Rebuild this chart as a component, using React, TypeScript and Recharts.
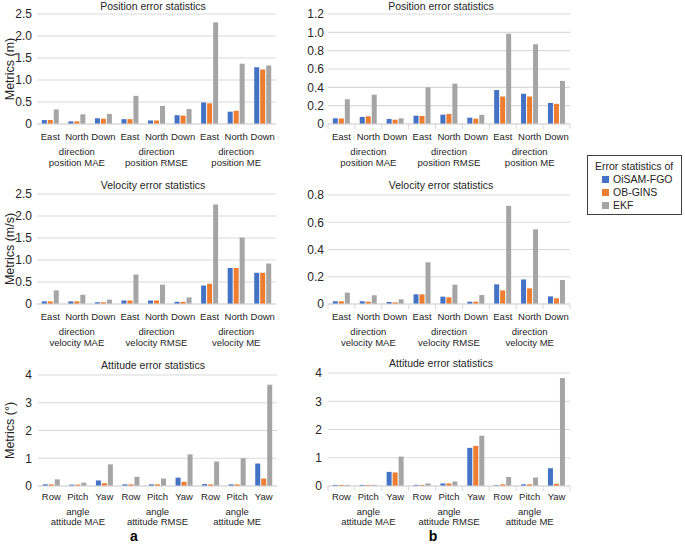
import React from 'react';
import { Bar, BarChart, CartesianGrid, XAxis, YAxis } from 'recharts';

const directions = ['East', 'North', 'Down'];
const angles = ['Row', 'Pitch', 'Yaw'];
const statistics = ['MAE', 'RMSE', 'ME'];

const seriesNames = ['OiSAM-FGO', 'OB-GINS', 'EKF'];
const seriesKeys = ['fgo', 'gins', 'ekf'];
const colors = ['#4472c4', '#ed7d31', '#a5a5a5'];

// panel a
const posAFgo = [0.09, 0.06, 0.13, 0.11, 0.08, 0.2, 0.49, 0.28, 1.29];
const posAGins = [0.09, 0.06, 0.12, 0.11, 0.08, 0.19, 0.47, 0.3, 1.24];
const posAEkf = [0.33, 0.22, 0.23, 0.64, 0.41, 0.34, 2.31, 1.37, 1.33];

const velAFgo = [0.06, 0.06, 0.04, 0.08, 0.08, 0.05, 0.42, 0.82, 0.71];
const velAGins = [0.06, 0.06, 0.04, 0.08, 0.08, 0.05, 0.46, 0.82, 0.71];
const velAEkf = [0.31, 0.21, 0.1, 0.67, 0.44, 0.15, 2.26, 1.51, 0.92];

const attAFgo = [0.06, 0.05, 0.2, 0.06, 0.06, 0.3, 0.07, 0.06, 0.81];
const attAGins = [0.06, 0.05, 0.1, 0.06, 0.06, 0.15, 0.06, 0.06, 0.27];
const attAEkf = [0.24, 0.12, 0.78, 0.33, 0.27, 1.14, 0.88, 1.0, 3.65];

// panel b
const posBFgo = [0.062, 0.077, 0.055, 0.091, 0.102, 0.069, 0.37, 0.33, 0.23];
const posBGins = [0.06, 0.084, 0.047, 0.088, 0.11, 0.058, 0.3, 0.3, 0.22];
const posBEkf = [0.27, 0.32, 0.062, 0.4, 0.44, 0.1, 0.985, 0.87, 0.47];

const velBFgo = [0.02, 0.02, 0.015, 0.071, 0.054, 0.017, 0.144, 0.18, 0.056];
const velBGins = [0.02, 0.017, 0.012, 0.071, 0.049, 0.017, 0.1, 0.115, 0.042];
const velBEkf = [0.083, 0.064, 0.034, 0.306, 0.142, 0.066, 0.72, 0.548, 0.176];

const attBFgo = [0.04, 0.04, 0.5, 0.04, 0.09, 1.35, 0.03, 0.06, 0.63];
const attBGins = [0.04, 0.04, 0.48, 0.04, 0.09, 1.42, 0.06, 0.06, 0.08];
const attBEkf = [0.04, 0.04, 1.04, 0.09, 0.16, 1.78, 0.32, 0.3, 3.82];

const posATicks = [0, 0.5, 1, 1.5, 2, 2.5];
const posBTicks = [0, 0.2, 0.4, 0.6, 0.8, 1, 1.2];
const velATicks = [0, 0.5, 1, 1.5, 2, 2.5];
const velBTicks = [0, 0.2, 0.4, 0.6, 0.8];
const attTicks = [0, 1, 2, 3, 4];

const FONT = '"Liberation Sans", Arial, sans-serif';
const TEXT = '#262626';
const GRID = '#d9d9d9';

const buildData = (labels: string[], fgo: number[], gins: number[], ekf: number[]) =>
  fgo.map((v, i) => ({
    name: labels[i % 3],
    fgo: v,
    gins: gins[i],
    ekf: ekf[i]
  }));

interface IPanel {
  title: string;
  data: any[];
  ticks: number[];
  decimals: number;
  yLabel?: string;
  level: string;
  prefix: string;
  plotLeft: number;
  plotRight: number;
  plotTop: number;
  plotBottom: number;
  chartLeft: number;
  titleX: number;
  titleY: number;
  catDy: number;
  levelDy: number;
  statDy: number;
  tickGap: number;
  boundaries: boolean;
}

const X_AXIS_H = 46;

const Panel = (p: IPanel) => {
  const top = p.plotTop - 6;
  const width = p.plotRight - p.chartLeft + 4;
  const height = p.plotBottom + X_AXIS_H - top;
  const base = p.plotBottom - top;
  const bw = (p.plotRight - p.plotLeft) / 9;

  const renderTick = (props: any) => {
    const { x, payload } = props;
    const i = payload?.index ?? props.index;
    return (
      <g>
        {p.boundaries && <line x1={x - bw / 2} x2={x - bw / 2} y1={base} y2={base + 5} stroke={GRID} />}
        {p.boundaries && i === 8 && <line x1={x + bw / 2} x2={x + bw / 2} y1={base} y2={base + 5} stroke={GRID} />}
        <text x={x} y={base + p.catDy} textAnchor="middle" dominantBaseline="central" fontSize={9.5} fill={TEXT} fontFamily={FONT}>
          {payload.value}
        </text>
        {i % 3 === 1 && (
          <>
            <text x={x} y={base + p.levelDy} textAnchor="middle" dominantBaseline="central" fontSize={9.5} fill={TEXT} fontFamily={FONT}>
              {p.level}
            </text>
            <text x={x} y={base + p.statDy} textAnchor="middle" dominantBaseline="central" fontSize={9.5} fill={TEXT} fontFamily={FONT}>
              {`${p.prefix} ${statistics[Math.floor(i / 3)]}`}
            </text>
          </>
        )}
      </g>
    );
  };

  return (
    <>
      <div
        style={{
          position: 'absolute',
          left: p.titleX - 150,
          top: p.titleY - 7,
          width: 300,
          lineHeight: '14px',
          textAlign: 'center',
          fontSize: 10.5,
          color: TEXT,
          fontFamily: FONT
        }}
      >
        {p.title}
      </div>
      <div style={{ position: 'absolute', left: p.chartLeft, top }}>
        <BarChart
          width={width}
          height={height}
          data={p.data}
          margin={{ top: 6, right: 4, left: 0, bottom: 0 }}
          barCategoryGap="18%"
          barGap={1}
        >
          <CartesianGrid vertical={false} stroke={GRID} strokeWidth={1.2} />
          <XAxis
            dataKey="name"
            interval={0}
            height={X_AXIS_H}
            axisLine={{ stroke: GRID }}
            tickLine={false}
            tick={renderTick}
          />
          <YAxis
            width={p.plotLeft - p.chartLeft}
            domain={[0, p.ticks[p.ticks.length - 1]]}
            ticks={p.ticks}
            interval={0}
            axisLine={false}
            tickLine={false}
            tickSize={p.tickGap}
            tickMargin={0}
            tick={{ fontSize: 12, fill: TEXT, fontFamily: FONT }}
            tickFormatter={(v: number) => (v === 0 ? '0' : v.toFixed(p.decimals))}
            label={
              p.yLabel
                ? {
                    value: p.yLabel,
                    angle: -90,
                    position: 'insideLeft',
                    offset: 10,
                    style: { textAnchor: 'middle', fontSize: 12.5, fill: TEXT, fontFamily: FONT }
                  }
                : undefined
            }
          />
          {seriesKeys.map((key, index) => (
            <Bar key={key} dataKey={key} name={seriesNames[index]} fill={colors[index]} isAnimationActive={false} />
          ))}
        </BarChart>
      </div>
    </>
  );
};

const Legend = () => (
  <div
    style={{
      position: 'absolute',
      left: 587,
      top: 155,
      width: 93,
      height: 58,
      border: '1px solid #404040',
      fontFamily: FONT,
      fontSize: 10.5,
      color: TEXT
    }}
  >
    <div style={{ position: 'absolute', left: 7, top: 4, lineHeight: '13px', whiteSpace: 'nowrap' }}>Error statistics of</div>
    {seriesNames.map((name, i) => (
      <div key={name} style={{ position: 'absolute', left: 14, top: 17 + i * 13, lineHeight: '13px', whiteSpace: 'nowrap' }}>
        <span style={{ display: 'inline-block', width: 7, height: 7, background: colors[i], marginRight: 4 }} />
        {name}
      </div>
    ))}
  </div>
);

const panelLabel = (text: string, cx: number) => (
  <div
    style={{
      position: 'absolute',
      left: cx - 7,
      top: 531,
      width: 14,
      textAlign: 'center',
      fontWeight: 'bold',
      fontSize: 14,
      lineHeight: '11px',
      color: '#000'
    }}
  >
    {text}
  </div>
);

export default function App() {
  const posVel = { decimals: 1, catDy: 12.5, levelDy: 27, statDy: 38 };
  const att = { decimals: 0, catDy: 10, levelDy: 25.5, statDy: 35.5 };
  return (
    <div style={{ position: 'absolute', left: 0, top: 0, width: 685, height: 544, background: '#fff', fontFamily: FONT }}>
      <Panel
        {...posVel}
        title="Position error statistics"
        data={buildData(directions, posAFgo, posAGins, posAEkf)}
        ticks={posATicks}
        yLabel="Metrics (m)"
        level="direction"
        prefix="position"
        plotLeft={37}
        plotRight={276}
        plotTop={14}
        plotBottom={124}
        chartLeft={0}
        titleX={153}
        titleY={6}
        tickGap={5}
        boundaries={false}
      />
      <Panel
        {...posVel}
        title="Position error statistics"
        data={buildData(directions, posBFgo, posBGins, posBEkf)}
        ticks={posBTicks}
        level="direction"
        prefix="position"
        plotLeft={328}
        plotRight={570}
        plotTop={14}
        plotBottom={124}
        chartLeft={285}
        titleX={441}
        titleY={6}
        tickGap={4}
        boundaries={true}
      />
      <Panel
        {...posVel}
        title="Velocity error statistics"
        data={buildData(directions, velAFgo, velAGins, velAEkf)}
        ticks={velATicks}
        yLabel="Metrics (m/s)"
        level="direction"
        prefix="velocity"
        plotLeft={37}
        plotRight={276}
        plotTop={194}
        plotBottom={304}
        chartLeft={0}
        titleX={153}
        titleY={185}
        tickGap={5}
        boundaries={false}
      />
      <Panel
        {...posVel}
        title="Velocity error statistics"
        data={buildData(directions, velBFgo, velBGins, velBEkf)}
        ticks={velBTicks}
        level="direction"
        prefix="velocity"
        plotLeft={328}
        plotRight={570}
        plotTop={195}
        plotBottom={304}
        chartLeft={285}
        titleX={441}
        titleY={185}
        tickGap={4}
        boundaries={true}
      />
      <Panel
        {...att}
        title="Attitude error statistics"
        data={buildData(angles, attAFgo, attAGins, attAEkf)}
        ticks={attTicks}
        yLabel="Metrics (°)"
        level="angle"
        prefix="attitude"
        plotLeft={38}
        plotRight={277}
        plotTop={375}
        plotBottom={486}
        chartLeft={0}
        titleX={153}
        titleY={365}
        tickGap={6}
        boundaries={false}
      />
      <Panel
        {...att}
        title="Attitude error statistics"
        data={buildData(angles, attBFgo, attBGins, attBEkf)}
        ticks={attTicks}
        level="angle"
        prefix="attitude"
        plotLeft={328}
        plotRight={570}
        plotTop={373}
        plotBottom={486}
        chartLeft={285}
        titleX={441}
        titleY={363}
        tickGap={6}
        boundaries={true}
      />
      <Legend />
      {panelLabel('a', 134)}
      {panelLabel('b', 433)}
    </div>
  );
}
